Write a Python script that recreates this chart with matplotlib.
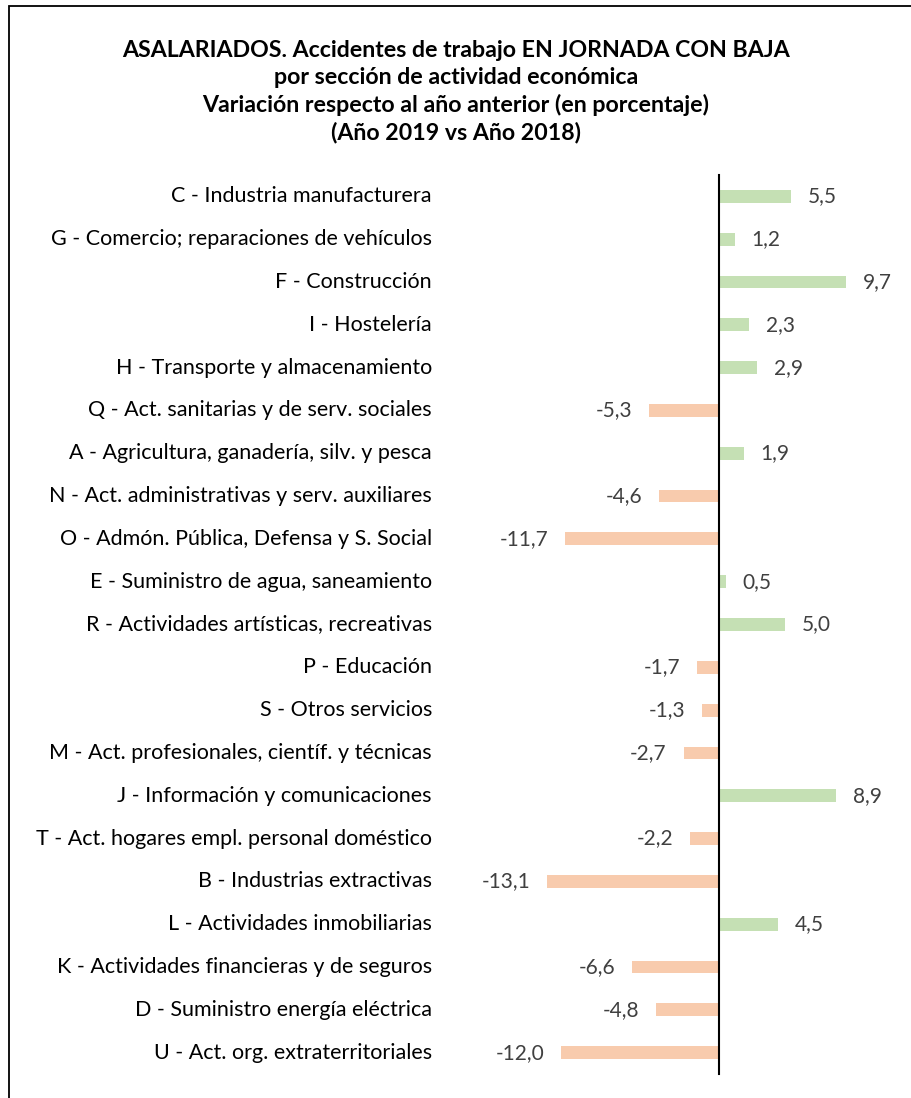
import matplotlib.pyplot as plt
from matplotlib.patches import Rectangle
from matplotlib.transforms import blended_transform_factory

# data
categories = [
    "C - Industria manufacturera",
    "G - Comercio; reparaciones de vehículos",
    "F - Construcción",
    "I - Hostelería",
    "H - Transporte y almacenamiento",
    "Q - Act. sanitarias y de serv. sociales",
    "A - Agricultura, ganadería, silv. y pesca",
    "N - Act. administrativas y serv. auxiliares",
    "O - Admón. Pública, Defensa y S. Social",
    "E - Suministro de agua, saneamiento",
    "R - Actividades artísticas, recreativas",
    "P - Educación",
    "S - Otros servicios",
    "M - Act. profesionales, científ. y técnicas",
    "J - Información y comunicaciones",
    "T - Act. hogares empl. personal doméstico",
    "B - Industrias extractivas",
    "L - Actividades inmobiliarias",
    "K - Actividades financieras y de seguros",
    "D - Suministro energía eléctrica",
    "U - Act. org. extraterritoriales",
]
values = [5.5, 1.2, 9.7, 2.3, 2.9, -5.3, 1.9, -4.6, -11.7, 0.5, 5.0,
          -1.7, -1.3, -2.7, 8.9, -2.2, -13.1, 4.5, -6.6, -4.8, -12.0]

title = ("ASALARIADOS. Accidentes de trabajo EN JORNADA CON BAJA\n"
         "por sección de actividad económica\n"
         "Variación respecto al año anterior (en porcentaje)\n"
         "(Año 2019 vs Año 2018)")

green = "#C5E0B4"
orange = "#F8CBAD"
txt = "#404040"

plt.rcParams['font.family'] = ['Lato', 'DejaVu Sans']

W, H = 912, 1098
fig = plt.figure(figsize=(W / 100, H / 100), dpi=100)

# outer frame (cut off on right and bottom like the screenshot)
fig.patches.append(Rectangle((9 / W, -0.1), 1.1, 1 - 6 / H + 0.1,
                             transform=fig.transFigure, fill=False,
                             edgecolor="black", lw=1.3))

ax = fig.add_axes([535 / W, 1 - 1074 / H, 368 / W, 899 / H])
ax.set_xlim(-14, 14)
ax.set_ylim(len(categories) - 0.5, -0.5)

ypos = list(range(len(categories)))
colors = [green if v >= 0 else orange for v in values]
ax.barh(ypos, values, height=0.3, color=colors)

for y, v in zip(ypos, values):
    lab = f"{v:.1f}".replace(".", ",")
    if v >= 0:
        ax.annotate(lab, (v, y), xytext=(12, 0), textcoords="offset points",
                    ha="left", va="center", fontsize=15, color=txt)
    else:
        ax.annotate(lab, (v, y), xytext=(-12, 0), textcoords="offset points",
                    ha="right", va="center", fontsize=15, color=txt)

ax.set_xticks([])
ax.set_yticks([])
for s in ["top", "right", "bottom"]:
    ax.spines[s].set_visible(False)
ax.spines["left"].set_position(("data", 0))
ax.spines["left"].set_linewidth(1.5)

# category labels, right aligned at a fixed position left of the plot
tr = blended_transform_factory(fig.transFigure, ax.transData)
for y, c in zip(ypos, categories):
    ax.text(432 / W, y, c, transform=tr, ha="right", va="center",
            fontsize=15.5, color="black")

fig.text(456 / W, 1 - 92 / H, title, ha="center", va="center",
         fontsize=16.7, fontweight="bold", linespacing=1.33)

fig.savefig("out.png", dpi=100)
